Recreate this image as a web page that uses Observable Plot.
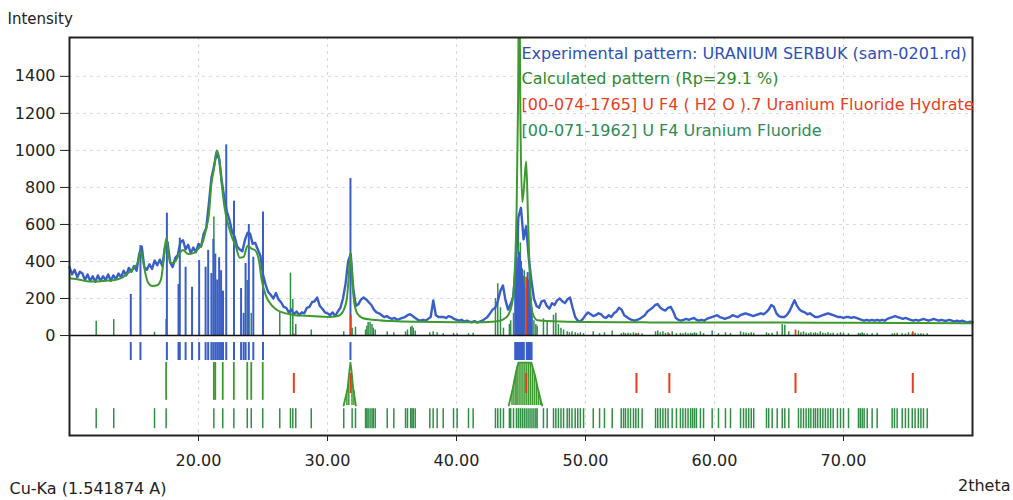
<!DOCTYPE html>
<html><head><meta charset="utf-8">
<script src="https://cdn.jsdelivr.net/npm/d3@7"></script>
<script src="https://cdn.jsdelivr.net/npm/@observablehq/plot@0.6"></script>
<style>body{margin:0;background:#fff}#chart{width:1013px;height:500px}</style>
</head><body><div id="chart"></div>
<script>
// ---- data ----
const expStart = 10, expStep = 0.2;
const expY = [
370,330,355,315,345, 335,300,330,295,320, 290,325,295,320,300, 330,295,325,305,335,
315,350,325,365,345, 375,350,440,480,370, 355,385,360,405,380, 410,375,480,505,395,
370,420,435,505,515, 465,490,445,475,450, 495,480,550,580,710, 850,915,985,955,835,
745,670,625,560,535, 480,465,455,515,555, 550,495,500,465,430, 330,275,235,220,200,
230,195,180,155,150, 125,140,115,130,110, 125,120,150,155,180, 185,205,160,145,125,
120,110,125,105,130, 150,200,280,400,440, 250,160,170,195,205, 195,180,165,140,125,
120,110,100,105,95, 90,95,85,90,95, 100,110,115,105,95, 85,80,85,80,90,
100,190,110,100,100, 100,95,105,100,90, 85,80,85,75,80, 75,72,78,70,75,
80,90,100,120,140, 150,185,240,270,190, 140,170,210,390,640, 690,520,590,420,300,
200,160,150,185,190, 160,145,175,165,190, 200,185,175,195,205, 150,100,80,75,90,
110,125,115,105,110, 120,115,100,95,110, 100,120,130,150,140, 110,100,90,85,80,
85,90,100,110,130, 140,150,165,170,150, 140,135,150,155,130, 95,85,80,85,90,
85,90,95,85,80, 85,80,90,95,100, 105,110,100,95,90, 95,100,110,105,100,
110,115,120,115,110, 105,110,115,120,115, 125,140,165,155,120, 105,100,100,110,130,
160,190,160,140,130, 125,115,120,110,100, 100,105,110,115,120, 115,110,105,100,100,
95,100,100,95,100, 95,90,85,80,85, 80,85,80,85,80, 85,80,90,95,100,
105,100,95,90,95, 90,85,80,85,80, 85,90,85,80,85, 90,85,80,85,80,
80,85,80,75,80, 75,80,75,70,75, 72];

const calcTheta = [10,10.5,11,11.5,12,12.5,13,13.5,14,14.5,15,15.3,15.5,15.7,15.9,16.1,16.4,16.8,17.1,17.3,17.5,17.7,17.9,18.2,18.5,18.8,19.2,19.6,20.0,20.3,20.6,20.8,21.0,21.2,21.4,21.6,21.8,22.0,22.3,22.6,22.9,23.2,23.5,23.8,24.1,24.4,24.7,24.9,25.2,25.6,26.0,26.5,27.0,27.5,28.0,29,30,30.8,31.2,31.5,31.65,31.78,31.9,32.05,32.3,32.7,33.5,35,37,40,42,43,43.6,44.0,44.3,44.5,44.65,44.78,44.86,44.95,45.1,45.25,45.4,45.55,45.7,45.9,46.3,48,55,60,65,70,75,80];
const calcY = [310,305,298,292,292,294,297,300,310,335,365,395,455,405,330,285,268,272,305,410,525,425,392,400,440,462,440,445,470,500,580,650,820,900,1000,960,820,700,600,530,480,420,425,485,470,460,400,300,220,170,142,125,116,110,108,104,100,105,130,200,320,445,320,190,120,95,85,78,74,72,72,76,86,110,170,320,650,1300,2100,1200,720,820,940,620,280,120,82,76,71,70,70,69,68,67];

// U F4 Uranium Fluoride reference lines (2theta, stick height)
const ufPos = [12.07,13.43,16.59,17.49,21.19,21.88,22.74,23.78,24.09,24.98,26.30,27.13,27.31,27.54,28.74,31.26,31.91,32.17,32.95,33.05,33.15,33.3,33.45,33.55,33.7,34.63,35.14,36.05,36.2,36.45,36.55,36.65,36.8,37.93,38.19,38.5,38.97,39.77,40.05,40.93,41.29,43.02,43.2,43.41,43.64,44.1,44.2,44.42,44.65,44.8,44.95,45.1,45.25,45.4,45.55,45.7,45.85,46.0,46.15,46.25,46.74,47.03,47.52,47.7,47.9,48.1,48.3,48.58,48.75,48.95,49.2,49.4,49.6,49.85,50.6,51.09,51.47,52.07,52.77,52.95,53.1,53.3,53.49,53.72,53.9,54.1,54.39,55.43,55.6,55.8,56.0,56.2,56.4,56.72,57.05,57.36,57.55,57.75,57.95,58.15,58.3,58.45,58.6,58.91,59.15,59.82,60.31,60.85,61.24,62.02,62.25,62.45,62.65,62.85,63.04,64.03,64.2,64.47,64.86,65.25,65.45,65.76,66.51,66.7,66.9,67.1,67.3,67.47,67.68,67.83,68.0,68.2,68.4,68.6,68.8,69.0,69.2,69.53,69.77,70.0,70.39,71.16,71.3,71.45,71.6,71.84,72.22,72.61,73.77,73.95,74.16,74.55,74.8,75.04,75.33,75.55,75.8,76.0,76.2,76.49];
const ufH = [77,86,18,86,640,200,150,297,120,150,126,337,195,60,30,20,40,45,30,50,70,72,60,40,30,20,15,20,30,45,50,40,25,15,20,15,10,12,10,10,12,200,280,150,40,60,80,120,400,600,500,300,350,250,200,120,100,80,60,50,90,70,110,120,60,40,30,20,15,20,15,10,15,10,20,10,15,25,10,15,10,12,10,15,10,12,10,20,25,15,20,12,15,20,10,12,10,15,10,12,10,15,12,20,10,25,10,15,12,20,15,12,10,15,12,15,10,12,20,60,55,20,25,15,20,12,10,15,12,15,10,20,12,10,15,10,12,10,15,12,10,12,10,15,10,8,10,12,8,10,12,10,8,15,10,12,8,10,8,10];

// blue reference lines
const bluePos = [14.75,15.5,17.55,18.45,18.55,19.0,19.5,20.05,20.55,20.75,21.0,21.15,21.3,21.45,21.6,21.75,21.9,22.15,22.75,23.3,23.5,23.65,23.9,24.25,25.0,31.78,44.55,44.62,44.7,44.78,44.85,44.92,45.0,45.08,45.15,45.22,45.45,45.52,45.6,45.68,45.75,45.82];
const blueH = [222,486,661,276,526,369,261,405,369,460,335,520,440,300,420,350,240,1030,726,254,120,389,600,423,667,848,250,300,380,420,450,430,400,360,320,280,300,340,300,260,200,150];

// U F4 (H2 O).7 Uranium Fluoride Hydrate reference lines
const redPos = [27.39,31.8,45.4,53.95,56.5,66.28,75.37];
const redH = [8,110,315,8,8,30,20];

// simulated phase profile row (second band)
const row2Pos = [17.49,21.19,21.3,21.88,22.74,23.78,24.09,24.98];
const prof31 = [[31.25,-378],[31.55,-290],[31.7,-190],[31.78,-146],[31.86,-190],[32.0,-290],[32.2,-378]];
const prof45 = [[44.05,-378],[44.35,-290],[44.6,-200],[44.8,-146],[45.8,-146],[46.1,-220],[46.35,-300],[46.64,-378]];
const innerPos = [31.5,31.65,31.9,32.05,44.3,44.45,44.6,44.7,44.85,45.0,45.15,45.3,45.45,45.6,45.75,45.9,46.05,46.2,46.35,46.5];
const innerTop = [-300,-220,-220,-300,-300,-250,-200,-170,-146,-146,-146,-146,-146,-146,-146,-180,-210,-260,-300,-340];

// bands below zero (intensity units)
const bandBlue = [-38,-135], bandRow2 = [-146,-378], bandRed = [-205,-313], bandUF = [-395,-503];

const yTicks = [0,200,400,600,800,1000,1200,1400];
const yGrid = [200,400,600,800,1000,1200,1400];
const xTicks = [20,30,40,50,60,70];

const legendLabels = ["Experimental pattern: URANIUM SERBUK (sam-0201.rd)","Calculated pattern (Rp=29.1 %)","[00-074-1765] U F4 ( H2 O ).7 Uranium Fluoride Hydrate","[00-071-1962] U F4 Uranium Fluoride"];

// ---- tables ----
const exp = expY.map((y,i)=>({t:+(expStart+i*expStep).toFixed(2), y}));
const calc = calcTheta.map((t,i)=>({t, y:calcY[i]}));
const uf = ufPos.map((t,i)=>({t, h:ufH[i]}));
const bl = bluePos.map((t,i)=>({t, h:blueH[i]}));
const rd = redPos.map((t,i)=>({t, h:redH[i]}));
const inner = innerPos.map((t,i)=>({t, top:innerTop[i]}));

const BLUE="#3a5ec8", GREEN="#3d9a2e", RED="#e63d1f", UFG="#2f8f45";
const legendColors = ["#2c50b8","#2f8a2a","#e8401f","#2e8b57"];
const FONT = "DejaVu Sans";

const plot = Plot.plot({
  width:1013, height:500,
  marginLeft:69, marginRight:41, marginTop:37, marginBottom:65,
  x:{domain:[10,80]},
  y:{domain:[-540,1610]},
  style:{fontFamily:FONT, fontSize:"16px", background:"white", overflow:"visible", color:"#222"},
  marks:[
    Plot.ruleY(yGrid,{stroke:"#d8d8e4", strokeDasharray:"3,4"}),
    Plot.ruleX(xTicks,{stroke:"#d8d8e4", strokeDasharray:"3,4"}),
    Plot.ruleX(uf,{x:"t", y1:0, y2:"h", stroke:UFG, strokeWidth:1.5}),
    Plot.ruleX(bl,{x:"t", y1:0, y2:"h", stroke:BLUE, strokeWidth:2}),
    Plot.line(exp,{x:"t", y:"y", stroke:BLUE, strokeWidth:2.4, strokeLinejoin:"round"}),
    Plot.line(calc,{x:"t", y:"y", stroke:GREEN, strokeWidth:2, curve:"monotone-x", clip:true}),
    Plot.ruleX(rd,{x:"t", y1:0, y2:"h", stroke:RED, strokeWidth:1.8}),
    Plot.ruleY([0],{stroke:"#111", strokeWidth:1.5}),
    // bands
    Plot.ruleX(bluePos,{y1:bandBlue[0], y2:bandBlue[1], stroke:BLUE, strokeWidth:2}),
    Plot.ruleX(row2Pos,{y1:bandRow2[0], y2:-350, stroke:GREEN, strokeWidth:1.8}),
    Plot.ruleX(inner,{x:"t", y1:"top", y2:bandRow2[1], stroke:GREEN, strokeWidth:1.5}),
    Plot.line(prof31,{stroke:GREEN, strokeWidth:1.8}),
    Plot.line(prof45,{stroke:GREEN, strokeWidth:1.8}),
    Plot.ruleX(redPos,{y1:bandRed[0], y2:bandRed[1], stroke:RED, strokeWidth:2}),
    Plot.ruleX(ufPos,{y1:bandUF[0], y2:bandUF[1], stroke:UFG, strokeWidth:1.5}),
    Plot.frame({stroke:"#222", strokeWidth:2}),
    Plot.axisY({ticks:yTicks, tickSize:9, tickPadding:5, fontSize:16, label:null, tickFormat:d3.format("d")}),
    Plot.axisX({ticks:xTicks, tickSize:6, tickPadding:13, fontSize:16, label:null, tickFormat:d3.format(".2f")}),
    ...legendLabels.map((s,i)=>Plot.text([s],{frameAnchor:"top-left", lineAnchor:"middle", textAnchor:"start", dx:452, dy:16+i*25.7, fill:legendColors[i], fontSize:16})),
    Plot.text(["Intensity"],{frameAnchor:"top-left", lineAnchor:"middle", textAnchor:"start", dx:-62, dy:-18, fill:"#222", fontSize:15}),
    Plot.text(["Cu-Ka (1.541874 A)"],{frameAnchor:"bottom-left", lineAnchor:"middle", textAnchor:"start", dx:-60, dy:53, fill:"#222", fontSize:16}),
    Plot.text(["2theta"],{frameAnchor:"bottom-right", lineAnchor:"middle", textAnchor:"end", dx:38, dy:50, fill:"#222", fontSize:16})
  ]
});
document.getElementById("chart").appendChild(plot);
</script></body></html>
